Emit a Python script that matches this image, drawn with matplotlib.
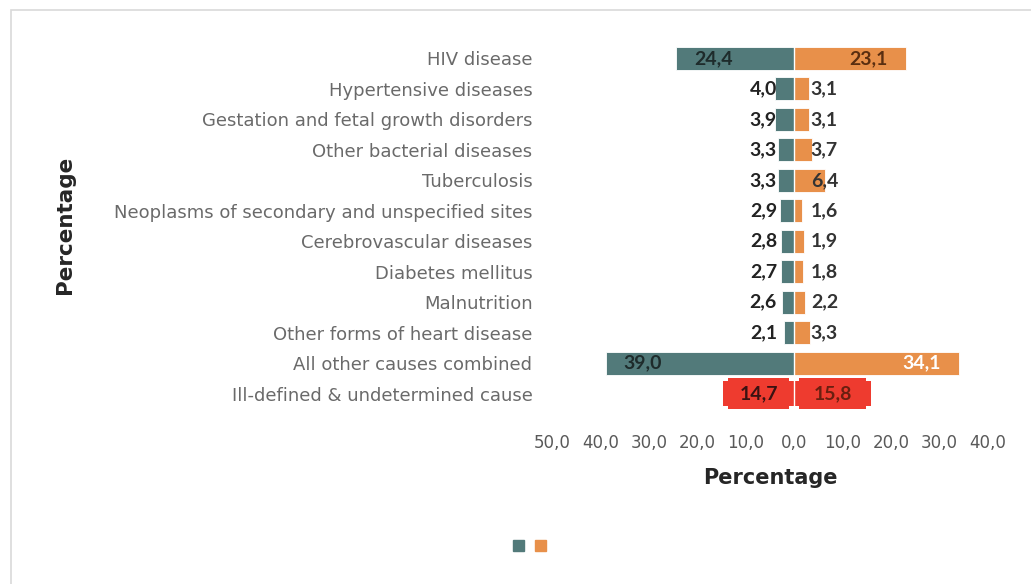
import matplotlib
matplotlib.use("Agg")
import matplotlib.pyplot as plt
from matplotlib.patches import Rectangle, Patch
import numpy as np

causes = [
    "HIV disease",
    "Hypertensive diseases",
    "Gestation and fetal growth disorders",
    "Other bacterial diseases",
    "Tuberculosis",
    "Neoplasms of secondary and unspecified sites",
    "Cerebrovascular diseases",
    "Diabetes mellitus",
    "Malnutrition",
    "Other forms of heart disease",
    "All other causes combined",
    "Ill-defined & undetermined cause",
]
left_vals = [24.4, 4.0, 3.9, 3.3, 3.3, 2.9, 2.8, 2.7, 2.6, 2.1, 39.0, 14.7]
right_vals = [23.1, 3.1, 3.1, 3.7, 6.4, 1.6, 1.9, 1.8, 2.2, 3.3, 34.1, 15.8]
xticks = [-50, -40, -30, -20, -10, 0, 10, 20, 30, 40]

teal = "#527a7a"
orange = "#e8904a"
red = "#ee3b2f"

fig = plt.figure(figsize=(10.31, 5.84), dpi=100)
fig.patch.set_facecolor("white")
# light frame around the chart area
fig.patches.append(Rectangle((11 / 1031, -0.05), 1.1, 1 - 10 / 584 + 0.05,
                             transform=fig.transFigure, fill=False,
                             edgecolor="#d9d9d9", linewidth=1.2))

ax = fig.add_axes([0.536, 0.300, 0.422, 0.626])
y = np.arange(len(causes))
lv = np.array(left_vals)
rv = np.array(right_vals)

main = y[:-1]
ax.barh(main, -lv[:-1], height=0.76, color=teal, edgecolor="white", linewidth=0.6)
ax.barh(main, rv[:-1], height=0.76, color=orange, edgecolor="white", linewidth=0.6)

# last row drawn in red, with a slightly stepped outline
last = y[-1]
ax.barh(last, -lv[-1], height=0.8, color=red, edgecolor="none")
ax.barh(last, rv[-1], height=0.8, color=red, edgecolor="none")
ax.barh(last, -(lv[-1] - 2.0), left=-1.0, height=1.05, color=red, edgecolor="none")
ax.barh(last, rv[-1] - 2.0, left=1.0, height=1.05, color=red, edgecolor="none")
ax.axvline(0, color="white", linewidth=1.0)

lab_kw = dict(fontsize=14, fontweight="bold", family="Lato", va="center")
for i, (l, r) in enumerate(zip(left_vals, right_vals)):
    ls = f"{l:.1f}".replace(".", ",")
    rs = f"{r:.1f}".replace(".", ",")
    if i == len(causes) - 1:
        ax.text(-l / 2, i, ls, ha="center", color="#3a1212", **lab_kw)
        ax.text(r / 2, i, rs, ha="center", color="#6a1f10", **lab_kw)
        continue
    if l > 10:
        ax.text(-l + 3.6, i, ls, ha="left", color="#1e2b2b", **lab_kw)
    else:
        ax.text(-3.6, i, ls, ha="right", color="#222222", **lab_kw)
    if r > 10:
        col = "white" if i == 10 else "#5a2e10"
        ax.text(r - 3.8, i, rs, ha="right", color=col, **lab_kw)
    else:
        ax.text(3.4, i, rs, ha="left", color="#333333", **lab_kw)

ax.set_ylim(len(causes) - 0.5, -0.5)
ax.set_xlim(-50, 40)
ax.set_yticks(y)
ax.set_yticklabels(causes, fontsize=13, color="#6a6a6a", family="DejaVu Sans")
ax.tick_params(axis="y", length=0, pad=14.5)
ax.set_xticks(xticks)
ax.set_xticklabels([f"{abs(v):.1f}".replace(".", ",") for v in xticks],
                   fontsize=12, color="#595959", family="DejaVu Sans")
ax.tick_params(axis="x", length=0, pad=18)
for s in ax.spines.values():
    s.set_visible(False)

ax.set_xlabel("Percentage", fontsize=15, fontweight="bold", color="#262626", labelpad=12)
fig.text(0.063, 0.615, "Percentage", rotation=90, fontsize=15.5, fontweight="bold",
         color="#262626", ha="center", va="center")

handles = [Patch(color=teal), Patch(color=orange)]
fig.legend(handles, ["", ""], loc="center", bbox_to_anchor=(0.515, 0.065), ncol=2,
           frameon=False, handlelength=0.8, handleheight=0.8, columnspacing=0.6,
           handletextpad=0.2)

fig.savefig("out.png", dpi=100)
